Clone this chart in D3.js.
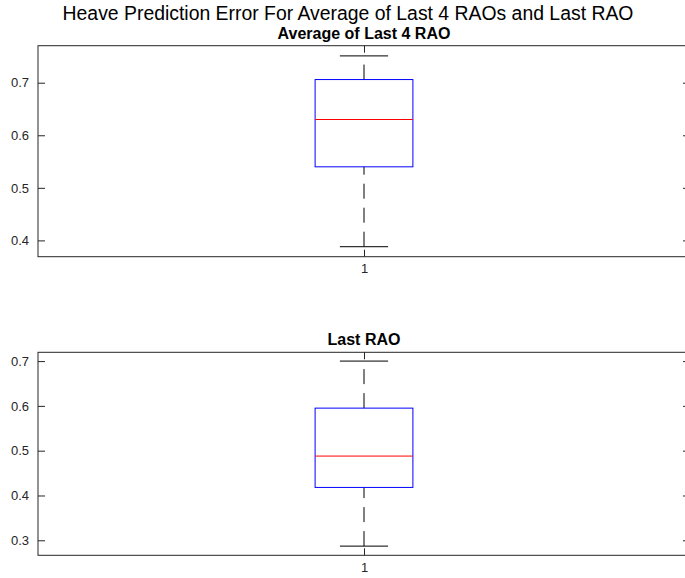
<!DOCTYPE html>
<html>
<head>
<meta charset="utf-8">
<script src="https://cdn.jsdelivr.net/npm/d3@7"></script>
<style>
  body { margin: 0; background: #fff; }
  svg { display: block; }
</style>
</head>
<body>
<svg id="chart" width="685" height="578"></svg>
<script>
// box plot stats
var titles = ["Average of Last 4 RAO", "Last RAO"]
var lowerW = [0.388, 0.287]
var q1 = [0.540, 0.418]
var median = [0.630, 0.488]
var q3 = [0.706, 0.595]
var upperW = [0.751, 0.700]

// axis ranges and ticks
var yMin = [0.369, 0.2665]
var yMax = [0.7704, 0.7196]
var yTicks = [[0.4, 0.5, 0.6, 0.7], [0.3, 0.4, 0.5, 0.6, 0.7]]
var xTicks = [1]

var svg = d3.select("#chart")
var axColor = "#262626"

var left = 38, right = 690
var tops = [45.7, 352.3]
var bottoms = [256.7, 555.3]

svg.append("text")
    .attr("x", 348)
    .attr("y", 19.5)
    .attr("text-anchor", "middle")
    .attr("font-family", "Liberation Sans, Arial, sans-serif")
    .attr("font-size", 19.4)
    .attr("fill", "#000")
    .text("Heave Prediction Error For Average of Last 4 RAOs and Last RAO")

for (var i = 0; i < 2; i++) {
    var x = d3.scaleLinear().domain([0.5, 1.5]).range([left, right])
    var y = d3.scaleLinear().domain([yMin[i], yMax[i]]).range([bottoms[i], tops[i]])
    var g = svg.append("g")

    // y axis left + right, ticks inward
    g.append("g").attr("transform", "translate(" + left + ",0)")
        .call(d3.axisLeft(y).tickValues(yTicks[i]).tickSizeInner(-7).tickSizeOuter(0)
            .tickPadding(9).tickFormat(d3.format(".1f")))
    g.append("g").attr("transform", "translate(" + right + ",0)")
        .call(d3.axisRight(y).tickValues(yTicks[i]).tickSizeInner(-7).tickSizeOuter(0)
            .tickFormat(""))
    g.append("g").attr("transform", "translate(0," + bottoms[i] + ")")
        .call(d3.axisBottom(x).tickValues(xTicks).tickSizeInner(-7).tickSizeOuter(0)
            .tickPadding(7).tickFormat(d3.format("d")))
    g.append("g").attr("transform", "translate(0," + tops[i] + ")")
        .call(d3.axisTop(x).tickValues(xTicks).tickSizeInner(-7).tickSizeOuter(0)
            .tickFormat(""))

    g.selectAll(".domain").remove()
    g.selectAll(".tick line").attr("stroke", axColor)
    g.selectAll(".tick text")
        .attr("fill", axColor)
        .attr("font-family", "Liberation Sans, Arial, sans-serif")
        .attr("font-size", 13)

    g.append("rect")
        .attr("x", left)
        .attr("y", tops[i])
        .attr("width", right - left)
        .attr("height", bottoms[i] - tops[i])
        .attr("fill", "none")
        .attr("stroke", axColor)
        .attr("stroke-width", 1)

    g.append("text")
        .attr("x", x(1))
        .attr("y", tops[i] - 7)
        .attr("text-anchor", "middle")
        .attr("font-family", "Liberation Sans, Arial, sans-serif")
        .attr("font-size", 16)
        .attr("font-weight", "bold")
        .attr("fill", "#000")
        .text(titles[i])

    var cx = x(1)
    var bw = x(1.075) - x(0.925)
    var capW = x(1.037) - x(0.963)

    // whiskers, drawn from low value upward
    g.append("line")
        .attr("x1", cx).attr("x2", cx)
        .attr("y1", y(lowerW[i])).attr("y2", y(q1[i]))
        .attr("stroke", "#000").attr("stroke-dasharray", "15,9")
    g.append("line")
        .attr("x1", cx).attr("x2", cx)
        .attr("y1", y(q3[i])).attr("y2", y(upperW[i]))
        .attr("stroke", "#000").attr("stroke-dasharray", "15,9")

    // caps
    g.selectAll(".cap")
        .data([lowerW[i], upperW[i]])
        .enter()
        .append("line")
        .attr("x1", cx - capW / 2)
        .attr("x2", cx + capW / 2)
        .attr("y1", function(d) { return y(d) })
        .attr("y2", function(d) { return y(d) })
        .attr("stroke", "#000")

    // box
    g.append("rect")
        .attr("x", cx - bw / 2)
        .attr("y", y(q3[i]))
        .attr("width", bw)
        .attr("height", y(q1[i]) - y(q3[i]))
        .attr("fill", "none")
        .attr("stroke", "#0000ff")

    g.append("line")
        .attr("x1", cx - bw / 2).attr("x2", cx + bw / 2)
        .attr("y1", y(median[i])).attr("y2", y(median[i]))
        .attr("stroke", "#ff0000")
}
</script>
</body>
</html>
